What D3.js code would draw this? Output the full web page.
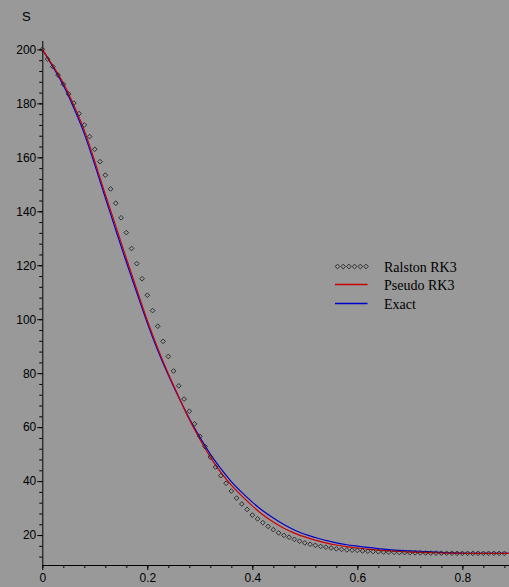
<!DOCTYPE html>
<html>
<head>
<meta charset="utf-8">
<script src="https://cdn.jsdelivr.net/npm/d3@7"></script>
<style>
  body { margin: 0; background: #999999; }
  svg { display: block; }
  .axis path, .axis line { stroke: #000; }
  .axis text { font-family: "Liberation Sans", Arial, sans-serif; font-size: 12px; fill: #000; }
  .legend text { font-family: "Liberation Serif", "Times New Roman", serif; font-size: 14px; fill: #000; }
</style>
</head>
<body>
<div id="chart"></div>
<script>
var width = 509, height = 587;

// time steps of the Ralston RK3 points (h = 0.01)
var ralstonT = d3.range(0, 89).map(function(i){ return +(i * 0.01).toFixed(2); });
var ralstonS = [
  200, 196.4, 193.6, 190.5, 187.1, 183.5, 180.1, 176.2, 172.0, 167.7,
  163.0, 158.4, 153.4, 148.3, 143.0, 137.6, 132.1, 126.2, 120.6, 115.0,
  108.9, 103.2, 97.4, 91.8, 86.2, 80.8, 75.3, 70.4, 65.9, 61.2,
  56.6, 52.8, 48.9, 45.2, 42.0, 39.2, 36.3, 33.7, 31.5, 29.5,
  27.4, 26.0, 24.6, 23.2, 22.0, 20.8, 19.9, 19.2, 18.4, 17.7,
  17.1, 16.6, 16.2, 15.8, 15.5, 15.2, 14.9, 14.7, 14.5, 14.4,
  14.3, 14.1, 14.0, 13.9, 13.8, 13.7, 13.65, 13.6, 13.5, 13.5,
  13.45, 13.4, 13.4, 13.35, 13.3, 13.3, 13.3, 13.25, 13.25, 13.2,
  13.2, 13.2, 13.2, 13.2, 13.2, 13.2, 13.2, 13.2, 13.2
];

// line series sampled every 0.02
var lineT = [0, 0.02, 0.04, 0.06, 0.08, 0.10, 0.12, 0.14, 0.16, 0.18,
  0.20, 0.22, 0.24, 0.26, 0.28, 0.30, 0.32, 0.34, 0.36, 0.38,
  0.40, 0.42, 0.44, 0.46, 0.48, 0.50, 0.52, 0.54, 0.56, 0.58,
  0.60, 0.62, 0.64, 0.66, 0.68, 0.70, 0.72, 0.74, 0.76, 0.78,
  0.80, 0.82, 0.84, 0.86, 0.88, 0.89];
var pseudoS = [200, 194.0, 187.5, 179.3, 170.0, 158.5, 146.2, 134.5, 122.6, 111.0,
  99.5, 89.2, 79.8, 71.2, 62.8, 55.5, 48.9, 43.2, 38.5, 34.5,
  30.8, 27.5, 24.8, 22.5, 20.7, 19.3, 18.1, 17.1, 16.3, 15.7,
  15.2, 14.8, 14.4, 14.15, 13.9, 13.7, 13.55, 13.45, 13.35, 13.3,
  13.25, 13.2, 13.2, 13.2, 13.2, 13.2];
var exactS = [200, 193.6, 186.7, 178.3, 168.8, 157.2, 145.0, 133.0, 121.2, 109.8,
  98.6, 88.4, 79.3, 71.0, 63.2, 56.3, 50.0, 44.6, 39.8, 35.8,
  32.2, 29.0, 26.3, 23.9, 21.9, 20.3, 19.1, 18.0, 17.1, 16.4,
  15.9, 15.4, 15.0, 14.6, 14.3, 14.1, 14.0, 13.8, 13.6, 13.4,
  13.3, 13.2, 13.2, 13.2, 13.2, 13.2];

var xTicks = [0, 0.2, 0.4, 0.6, 0.8];
var yTicks = [20, 40, 60, 80, 100, 120, 140, 160, 180, 200];
var seriesNames = ["Ralston RK3", "Pseudo RK3", "Exact"];

var x = d3.scaleLinear().domain([0, 0.89]).range([42.3, 509.6]);
var y = d3.scaleLinear().domain([8.9, 203.3]).range([565, 40.5]);

var svg = d3.select("#chart")
    .append("svg")
    .attr("width", width)
    .attr("height", height);

svg.append("rect")
    .attr("width", width)
    .attr("height", height)
    .attr("fill", "#999999");

//minor ticks
svg.append("g")
    .attr("class", "axis")
    .attr("transform", "translate(0, " + y.range()[0] + ")")
    .call(d3.axisBottom(x).tickValues(d3.range(0, 0.89, 0.04)).tickSize(3).tickFormat(""))
    .select(".domain").remove();
svg.append("g")
    .attr("class", "axis")
    .attr("transform", "translate(" + x(0) + ", 0)")
    .call(d3.axisLeft(y).tickValues(d3.range(12, 203, 4)).tickSize(3).tickFormat(""))
    .select(".domain").remove();

//x axis
svg.append("g")
    .attr("class", "axis")
    .attr("transform", "translate(0, " + y.range()[0] + ")")
    .call(d3.axisBottom(x).tickValues(xTicks).tickSize(5).tickSizeOuter(0).tickPadding(3)
        .tickFormat(function(d){ return d === 0 ? "0" : d3.format(".1f")(d); }));

//y axis
svg.append("g")
    .attr("class", "axis")
    .attr("transform", "translate(" + x(0) + ", 0)")
    .call(d3.axisLeft(y).tickValues(yTicks).tickSize(5).tickSizeOuter(0).tickPadding(1));

//y axis label
svg.append("text")
    .attr("x", 22)
    .attr("y", 21)
    .attr("font-family", "Liberation Sans, Arial, sans-serif")
    .attr("font-size", "13px")
    .text("S");

var diamond = d3.symbol().type(d3.symbolDiamond2).size(14);

//lines
var pseudo = lineT.map(function(t, i){ return [t, pseudoS[i]]; });
var exact = lineT.map(function(t, i){ return [t, exactS[i]]; });
var line = d3.line()
    .x(function(d){ return x(d[0]); })
    .y(function(d){ return y(d[1]); })
    .curve(d3.curveMonotoneX);

svg.append("path")
    .datum(exact)
    .attr("fill", "none")
    .attr("stroke", "#0000cc")
    .attr("stroke-width", 1.2)
    .attr("d", line);

svg.append("path")
    .datum(pseudo)
    .attr("fill", "none")
    .attr("stroke", "#cc0000")
    .attr("stroke-width", 1.2)
    .attr("d", line);

//ralston points
svg.append("g")
    .selectAll("path")
    .data(ralstonT.map(function(t, i){ return [t, ralstonS[i]]; }))
    .join("path")
    .attr("d", diamond)
    .attr("transform", function(d){ return "translate(" + x(d[0]) + "," + y(d[1]) + ")"; })
    .attr("fill", "none")
    .attr("stroke", "#222")
    .attr("stroke-width", 0.9);

//legend
var legend = svg.append("g").attr("class", "legend");
var rowY = [266.5, 284.5, 303.5];
var colors = ["#222", "#cc0000", "#0000cc"];

legend.selectAll("text")
    .data(seriesNames)
    .join("text")
    .attr("x", 384)
    .attr("y", function(d, i){ return rowY[i] + 5; })
    .text(function(d){ return d; });

legend.selectAll("path.sym")
    .data(d3.range(6))
    .join("path")
    .attr("class", "sym")
    .attr("d", diamond)
    .attr("transform", function(d){ return "translate(" + (337.5 + d * 5.7) + "," + rowY[0] + ")"; })
    .attr("fill", "none")
    .attr("stroke", colors[0])
    .attr("stroke-width", 0.9);

legend.selectAll("line")
    .data([1, 2])
    .join("line")
    .attr("x1", 335)
    .attr("x2", 367.5)
    .attr("y1", function(d){ return rowY[d]; })
    .attr("y2", function(d){ return rowY[d]; })
    .style("stroke", function(d){ return colors[d]; })
    .attr("stroke-width", 1.3);
</script>
</body>
</html>
